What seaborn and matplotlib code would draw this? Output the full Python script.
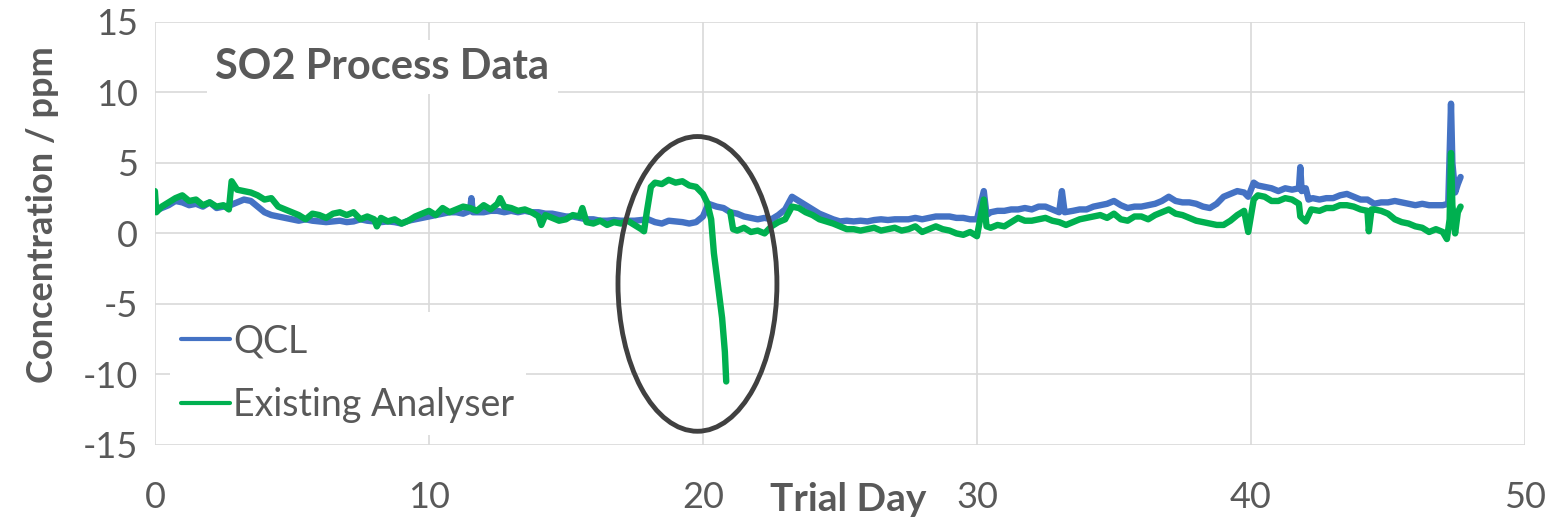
import numpy as np
import pandas as pd
import matplotlib
matplotlib.use('Agg')
import matplotlib.pyplot as plt
from matplotlib.patches import Ellipse
import seaborn as sns

# QCL readings (day, ppm)
qcl_day = [0.0, 0.25, 0.5, 0.75, 1.0, 1.25, 1.5, 1.75, 2.0, 2.25, 2.5, 2.75, 3.0, 3.25, 3.5, 3.75,
           4.0, 4.25, 4.5, 4.75, 5.0, 5.25, 5.5, 5.75, 6.0, 6.25, 6.5, 6.75, 7.0, 7.25, 7.5, 7.75,
           8.0, 8.25, 8.5, 8.75, 9.0, 9.25, 9.5, 9.75, 10.0, 10.25, 10.5, 10.75, 11.0, 11.25, 11.5,
           11.55, 11.6, 11.75, 12.0, 12.25, 12.5, 12.75, 13.0, 13.25, 13.5, 13.75, 14.0, 14.25, 14.5,
           14.75, 15.0, 15.25, 15.5, 15.75, 16.0, 16.25, 16.5, 16.75, 17.0, 17.25, 17.5, 17.75, 18.0,
           18.25, 18.5, 18.75, 19.0, 19.25, 19.5, 19.75, 20.0, 20.2, 20.5, 20.75, 21.0, 21.25, 21.5,
           21.75, 22.0, 22.25, 22.5, 22.75, 23.0, 23.25, 23.5, 23.75, 24.0, 24.25, 24.5, 24.75, 25.0,
           25.25, 25.5, 25.75, 26.0, 26.25, 26.5, 26.75, 27.0, 27.25, 27.5, 27.75, 28.0, 28.25, 28.5,
           28.75, 29.0, 29.25, 29.5, 29.75, 30.0, 30.25, 30.35, 30.5, 30.75, 31.0, 31.25, 31.5, 31.75,
           32.0, 32.25, 32.5, 32.75, 33.0, 33.1, 33.2, 33.5, 33.75, 34.0, 34.25, 34.5, 34.75, 35.0,
           35.25, 35.5, 35.75, 36.0, 36.25, 36.5, 36.75, 37.0, 37.25, 37.5, 37.75, 38.0, 38.25, 38.5,
           38.75, 39.0, 39.25, 39.5, 39.75, 39.9, 40.1, 40.25, 40.5, 40.75, 41.0, 41.25, 41.5, 41.75,
           41.8, 41.85, 42.0, 42.1, 42.25, 42.5, 42.75, 43.0, 43.25, 43.5, 43.75, 44.0, 44.25, 44.5,
           44.75, 45.0, 45.25, 45.5, 45.75, 46.0, 46.25, 46.5, 46.75, 47.0, 47.2, 47.3, 47.35, 47.45,
           47.55, 47.65]
qcl_ppm = [1.6, 1.8, 2.0, 2.3, 2.2, 2.0, 2.1, 1.9, 2.2, 1.8, 1.9, 2.0, 2.2, 2.4, 2.3, 1.9,
           1.5, 1.3, 1.2, 1.1, 1.0, 0.9, 1.0, 0.9, 0.85, 0.8, 0.85, 0.9, 0.8, 0.85, 1.0, 0.9,
           0.85, 0.8, 0.85, 0.8, 0.7, 0.9, 1.0, 1.1, 1.2, 1.3, 1.4, 1.5, 1.5, 1.4, 1.6,
           2.5, 1.5, 1.5, 1.5, 1.6, 1.6, 1.5, 1.6, 1.5, 1.6, 1.5, 1.5, 1.4, 1.4,
           1.3, 1.2, 1.2, 1.1, 1.0, 1.0, 0.9, 0.9, 0.95, 0.9, 0.9, 0.9, 0.95, 1.0,
           0.8, 0.7, 0.9, 0.85, 0.8, 0.7, 0.8, 1.2, 2.1, 1.9, 1.8, 1.5, 1.4, 1.2,
           1.1, 1.0, 1.1, 1.0, 1.3, 1.7, 2.6, 2.3, 2.0, 1.7, 1.4, 1.2, 1.0, 0.85,
           0.9, 0.85, 0.9, 0.85, 0.95, 1.0, 0.95, 1.0, 1.0, 1.0, 1.1, 1.0, 1.1, 1.2,
           1.2, 1.2, 1.1, 1.1, 1.0, 1.0, 3.0, 1.3, 1.5, 1.6, 1.6, 1.7, 1.7, 1.8,
           1.7, 1.9, 1.9, 1.7, 1.5, 3.0, 1.5, 1.6, 1.7, 1.7, 1.9, 2.0, 2.1, 2.3,
           2.0, 1.8, 1.9, 1.9, 2.0, 2.1, 2.3, 2.6, 2.3, 2.2, 2.2, 2.1, 1.9, 1.8,
           2.1, 2.6, 2.8, 3.0, 2.9, 2.6, 3.6, 3.4, 3.3, 3.2, 3.0, 3.2, 3.1, 3.2,
           4.7, 3.0, 3.2, 2.4, 2.5, 2.4, 2.5, 2.5, 2.7, 2.8, 2.6, 2.4, 2.4, 2.1,
           2.2, 2.2, 2.3, 2.2, 2.1, 2.0, 2.1, 2.0, 2.0, 2.0, 2.1, 9.2, 5.0, 2.9,
           3.5, 4.0]

# Existing analyser, before the dropout around day 20.9
ana_day_a = [0.0, 0.05, 0.25, 0.5, 0.75, 1.0, 1.25, 1.5, 1.75, 2.0, 2.25, 2.5, 2.7, 2.8, 3.0, 3.25,
             3.5, 3.75, 4.0, 4.25, 4.5, 4.75, 5.0, 5.25, 5.5, 5.75, 6.0, 6.25, 6.5, 6.75, 7.0, 7.25,
             7.5, 7.75, 8.0, 8.1, 8.25, 8.5, 8.75, 9.0, 9.25, 9.5, 9.75, 10.0, 10.25, 10.5, 10.75,
             11.0, 11.25, 11.5, 11.75, 12.0, 12.25, 12.5, 12.6, 12.75, 13.0, 13.25, 13.5, 13.75, 14.0,
             14.1, 14.25, 14.5, 14.75, 15.0, 15.25, 15.5, 15.6, 15.75, 16.0, 16.25, 16.5, 16.75, 17.0,
             17.25, 17.5, 17.75, 17.85, 17.95, 18.1, 18.25, 18.5, 18.75, 19.0, 19.25, 19.5, 19.75,
             20.0, 20.15, 20.3, 20.4, 20.55, 20.7, 20.8, 20.85]
ana_ppm_a = [3.0, 1.5, 1.9, 2.2, 2.5, 2.7, 2.3, 2.4, 2.0, 2.2, 1.9, 2.0, 1.7, 3.7, 3.1, 3.0,
             2.9, 2.7, 2.4, 2.5, 1.9, 1.7, 1.5, 1.3, 1.0, 1.4, 1.3, 1.1, 1.4, 1.5, 1.3, 1.5,
             1.0, 1.2, 1.0, 0.5, 1.1, 0.85, 1.0, 0.7, 0.9, 1.2, 1.4, 1.6, 1.3, 1.8, 1.5,
             1.7, 1.9, 1.8, 1.6, 2.0, 1.7, 2.1, 2.5, 1.9, 1.8, 1.6, 1.7, 1.5, 1.2,
             0.6, 1.3, 1.1, 0.9, 1.0, 1.3, 1.2, 1.8, 0.8, 0.7, 0.9, 0.6, 0.8, 0.7,
             0.9, 0.6, 0.3, 0.15, 1.5, 3.3, 3.6, 3.5, 3.8, 3.6, 3.7, 3.4, 3.3,
             2.8, 2.2, 1.0, -1.4, -3.7, -6.0, -8.4, -10.5]

# Existing analyser, after the dropout
ana_day_b = [21.0, 21.1, 21.25, 21.5, 21.75, 22.0, 22.25, 22.5, 22.75, 23.0, 23.25, 23.5, 23.75,
             24.0, 24.25, 24.5, 24.75, 25.0, 25.25, 25.5, 25.75, 26.0, 26.25, 26.5, 26.75, 27.0,
             27.25, 27.5, 27.75, 28.0, 28.25, 28.5, 28.75, 29.0, 29.25, 29.5, 29.75, 30.0, 30.25,
             30.35, 30.5, 30.75, 31.0, 31.25, 31.5, 31.75, 32.0, 32.25, 32.5, 32.75, 33.0, 33.25,
             33.5, 33.75, 34.0, 34.25, 34.5, 34.75, 35.0, 35.25, 35.5, 35.75, 36.0, 36.25, 36.5,
             36.75, 37.0, 37.25, 37.5, 37.75, 38.0, 38.25, 38.5, 38.75, 39.0, 39.25, 39.5, 39.75,
             39.9, 40.1, 40.25, 40.5, 40.75, 41.0, 41.25, 41.5, 41.75, 41.8, 42.0, 42.2, 42.5,
             42.75, 43.0, 43.25, 43.5, 43.75, 44.0, 44.25, 44.3, 44.4, 44.5, 44.75, 45.0, 45.25,
             45.5, 45.75, 46.0, 46.25, 46.5, 46.75, 47.0, 47.15, 47.25, 47.3, 47.35, 47.45, 47.55,
             47.65]
ana_ppm_b = [1.5, 0.3, 0.2, 0.4, 0.1, 0.2, 0.0, 0.5, 0.8, 1.0, 1.9, 1.8, 1.5,
             1.3, 1.0, 0.85, 0.7, 0.5, 0.3, 0.3, 0.2, 0.3, 0.4, 0.2, 0.3, 0.4,
             0.2, 0.3, 0.5, 0.1, 0.3, 0.5, 0.3, 0.2, 0.0, -0.1, 0.1, -0.2, 2.4,
             0.5, 0.4, 0.6, 0.5, 0.8, 1.1, 0.9, 0.9, 1.0, 1.1, 0.9, 0.8, 0.6,
             0.8, 1.0, 1.1, 1.2, 1.3, 1.1, 1.4, 1.0, 0.9, 1.2, 1.2, 1.0, 1.3,
             1.5, 1.7, 1.4, 1.3, 1.1, 0.9, 0.8, 0.7, 0.6, 0.6, 0.9, 1.3, 1.6,
             0.1, 2.4, 2.7, 2.6, 2.3, 2.3, 2.5, 2.4, 2.1, 1.2, 0.85, 1.7, 1.6,
             1.8, 1.8, 2.0, 2.0, 1.9, 1.7, 1.6, 0.15, 1.7, 1.7, 1.6, 1.4, 1.0,
             0.8, 0.7, 0.5, 0.4, 0.1, 0.3, 0.1, -0.4, 1.0, 5.7, 2.0, 0.0, 1.5,
             1.9]

series_names = ['QCL', 'Existing Analyser']
series_colors = ['#4472C4', '#00B050']

df = pd.concat([
    pd.DataFrame({'day': qcl_day, 'ppm': qcl_ppm, 'series': 'QCL', 'seg': 0}),
    pd.DataFrame({'day': ana_day_a, 'ppm': ana_ppm_a, 'series': 'Existing Analyser', 'seg': 1}),
    pd.DataFrame({'day': ana_day_b, 'ppm': ana_ppm_b, 'series': 'Existing Analyser', 'seg': 2}),
], ignore_index=True)

sns.set_theme(style='whitegrid')
plt.rcParams['font.family'] = ['Lato', 'DejaVu Sans']
plt.rcParams['axes.unicode_minus'] = False
grey = '#595959'

fig = plt.figure(figsize=(15.49, 5.21), dpi=100)
ax = fig.add_axes([0.100, 0.146, 0.8845, 0.812])

sns.lineplot(data=df, x='day', y='ppm', hue='series', units='seg', estimator=None, sort=False,
             hue_order=series_names, palette=series_colors, linewidth=4.6, ax=ax)

ax.set_xlim(0, 50)
ax.set_ylim(-15, 15)
ax.set_xticks(range(0, 51, 10))
ax.set_yticks(range(-15, 16, 5))
ax.grid(True, color='#D9D9D9', linewidth=1.2)
for s in ax.spines.values():
    s.set_visible(False)
ax.tick_params(axis='both', length=0, labelsize=26, labelcolor=grey)
ax.tick_params(axis='x', pad=26)
ax.tick_params(axis='y', pad=12)

ax.set_xlabel('Trial Day', fontsize=28, fontweight='bold', color=grey)
ax.xaxis.set_label_coords(0.506, -0.088)
ax.set_ylabel('Concentration / ppm', fontsize=26, fontweight='bold', color=grey)
ax.yaxis.set_label_coords(-0.070, 0.545)

# title box inside the plot
ax.text(2.2, 11.8, 'SO2 Process Data', fontsize=30, fontweight='bold', color=grey,
        ha='left', va='center',
        bbox=dict(facecolor='white', edgecolor='none', pad=6))

# highlight the dropout
ax.add_patch(Ellipse((19.8, -3.58), 5.8, 20.9, fill=False, edgecolor='#404040', linewidth=3.5, zorder=5))

handles, labels = ax.get_legend_handles_labels()
leg = ax.legend(handles, labels, loc='lower left', bbox_to_anchor=(-0.003, -0.02), fontsize=27,
                frameon=True, facecolor='white', edgecolor='none', framealpha=1,
                handlelength=1.3, handletextpad=0.1, labelspacing=0.75, borderpad=0.3)
for t in leg.get_texts():
    t.set_color(grey)
for h in leg.get_lines():
    h.set_linewidth(3)

fig.savefig('out.png', dpi=100)
